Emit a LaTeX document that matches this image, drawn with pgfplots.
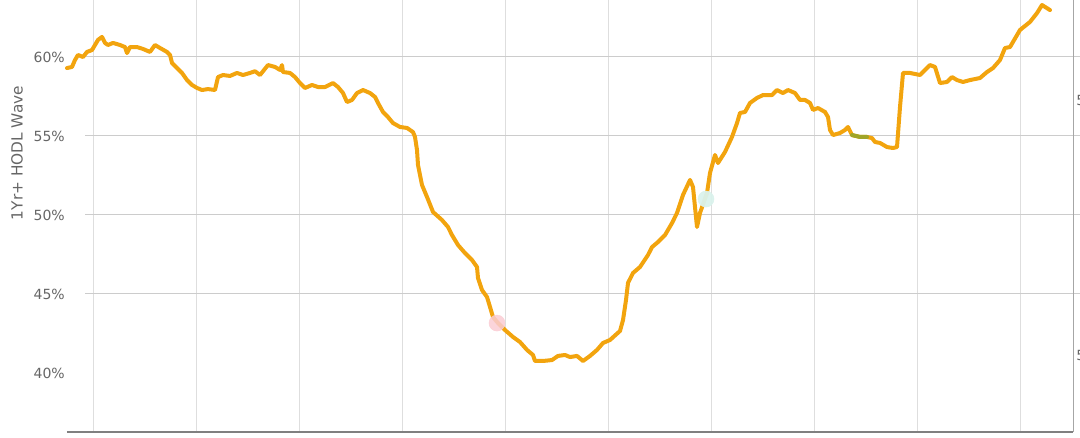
\documentclass[border=0pt]{standalone}
\usepackage{pgfplots}
\pgfplotsset{compat=1.18}
\usepackage{fontspec}
\setmainfont{DejaVu Sans}
\definecolor{hodl}{RGB}{242,164,14}
\definecolor{hodlgreen}{RGB}{160,165,40}
\definecolor{txt}{RGB}{102,102,102}
\definecolor{hgrid}{RGB}{204,204,204}
\definecolor{vgrid}{RGB}{222,222,222}
\definecolor{pinkm}{RGB}{250,205,212}
\definecolor{cyanm}{RGB}{218,242,236}
\begin{document}
\begin{tikzpicture}
\useasboundingbox (0,0) rectangle (810pt,328.5pt);
\clip (0,0) rectangle (810pt,328.5pt);
\begin{axis}[
  at={(50.25pt,4.5pt)}, anchor=south west,
  scale only axis, width=754.5pt, height=324pt,
  xmin=67, xmax=1073, ymin=36.266, ymax=63.608,
  clip=false,
  axis line style={draw=none},
  xtick={93,196,299,402,505,608,711,814,917,1020},
  xticklabels={},
  xmajorgrids, major grid style={draw=vgrid, line width=0.75pt},
  major tick length=0pt,
  ytick={40,45,50,55,60},
  yticklabels={40\%,45\%,50\%,55\%,60\%},
  yticklabel style={font=\fontsize{10.5}{12}\selectfont, text=txt, anchor=east, inner sep=0pt, xshift=-1.5pt},
]
% horizontal grid lines
\draw[hgrid, line width=0.75pt] (axis cs:85,60) -- (axis cs:1085,60);
\draw[hgrid, line width=0.75pt] (axis cs:85,55) -- (axis cs:1085,55);
\draw[hgrid, line width=0.75pt] (axis cs:85,50) -- (axis cs:1085,50);
\draw[hgrid, line width=0.75pt] (axis cs:85,45) -- (axis cs:1085,45);
% axis lines
\draw[gray!70, line width=0.75pt] (rel axis cs:1,0) -- (rel axis cs:1,1.05);
\draw[gray, line width=2pt] (rel axis cs:0,0) -- (rel axis cs:1,0);
\addplot[hodl, line width=3pt, line join=round, line cap=round] coordinates {
(67,59.30)(72,59.37)(75,59.81)(78,60.13)(83,60.00)(87,60.32)(92,60.44)(95,60.76)
(98,61.08)(102,61.27)(105,60.89)(108,60.76)(113,60.89)(120,60.76)(125,60.63)(127,60.25)
(130,60.63)(137,60.63)(143,60.51)(150,60.32)(155,60.76)(160,60.57)(167,60.32)(170,60.13)
(172,59.62)(177,59.30)(182,58.99)(187,58.54)(192,58.23)(197,58.04)(202,57.91)(208,57.97)
(215,57.91)(218,58.73)(223,58.86)(230,58.80)(237,58.99)(243,58.86)(250,58.99)(255,59.10)
(260,58.86)(268,59.49)(275,59.37)(280,59.18)(282,59.49)(283,59.05)(290,58.99)(295,58.73)
(300,58.35)(305,58.04)(312,58.23)(318,58.10)(325,58.10)(333,58.35)(338,58.10)(343,57.72)
(347,57.15)(352,57.28)(357,57.72)(363,57.91)(370,57.72)(375,57.47)(378,57.09)(383,56.52)
(388,56.20)(393,55.82)(400,55.57)(407,55.51)(413,55.25)(415,54.94)(417,54.11)(418,53.16)
(422,51.90)(427,51.14)(433,50.19)(442,49.68)(448,49.24)(452,48.73)(458,48.10)(465,47.59)
(472,47.15)(477,46.71)(478,46.01)(482,45.25)(487,44.81)(490,44.18)(493,43.54)(498,43.16)
(505,42.72)(513,42.28)(520,41.96)(527,41.46)(533,41.14)(535,40.76)(543,40.76)(552,40.82)
(558,41.08)(565,41.14)(570,41.01)(577,41.08)(583,40.76)(590,41.08)(597,41.46)(603,41.90)
(610,42.09)(620,42.66)(623,43.35)(626,44.62)(628,45.70)(633,46.33)(640,46.71)(648,47.47)
(652,47.97)(658,48.29)(665,48.73)(672,49.49)(677,50.13)(683,51.27)(690,52.22)(693,51.77)
(697,49.24)(700,50.13)(707,51.39)(710,52.66)(715,53.80)(718,53.29)(725,53.99)(732,54.94)
(737,55.82)(740,56.46)(745,56.52)(750,57.09)(757,57.41)(763,57.59)(772,57.59)(777,57.91)
(783,57.72)(788,57.91)(795,57.72)(800,57.28)(805,57.28)(810,57.09)(813,56.65)(818,56.77)
(825,56.52)(828,56.20)(830,55.38)(833,55.06)(840,55.19)(845,55.38)(848,55.57)(852,55.06)
(860,54.94)(867,54.94)(872,54.87)(875,54.62)(880,54.56)(887,54.30)(893,54.24)(897,54.30)
(900,56.84)(903,58.99)(910,58.99)(920,58.86)(925,59.18)(930,59.49)(935,59.37)(940,58.35)
(947,58.42)(952,58.73)(957,58.54)(963,58.42)(970,58.54)(980,58.67)(987,59.05)(993,59.30)
(1000,59.81)(1005,60.57)(1010,60.63)(1020,61.71)(1030,62.22)(1037,62.78)(1042,63.29)(1050,62.97)
};
\addplot[hodlgreen, line width=3pt, line join=round, line cap=round] coordinates {
(852,55.06)(860,54.94)(867,54.94)
};
\addplot[color=pinkm, only marks, mark=*, mark size=6pt, mark options={draw=pinkm, fill=pinkm, opacity=0.85}] coordinates {(497,43.16)};
\addplot[color=cyanm, only marks, mark=*, mark size=6pt, mark options={draw=cyanm, fill=cyanm, opacity=0.95}] coordinates {(706,51.01)};
\end{axis}
\node[rotate=90, text=txt, font=\fontsize{11.5}{13}\selectfont] at (12.75pt,213.75pt) {1Yr+ HODL Wave};
\node[anchor=west, inner sep=0pt, text=txt, font=\fontsize{10.5}{12}\selectfont] at (807pt,253pt) {5};
\node[anchor=west, inner sep=0pt, text=txt, font=\fontsize{10.5}{12}\selectfont] at (807pt,62pt) {5};
\end{tikzpicture}
\end{document}
